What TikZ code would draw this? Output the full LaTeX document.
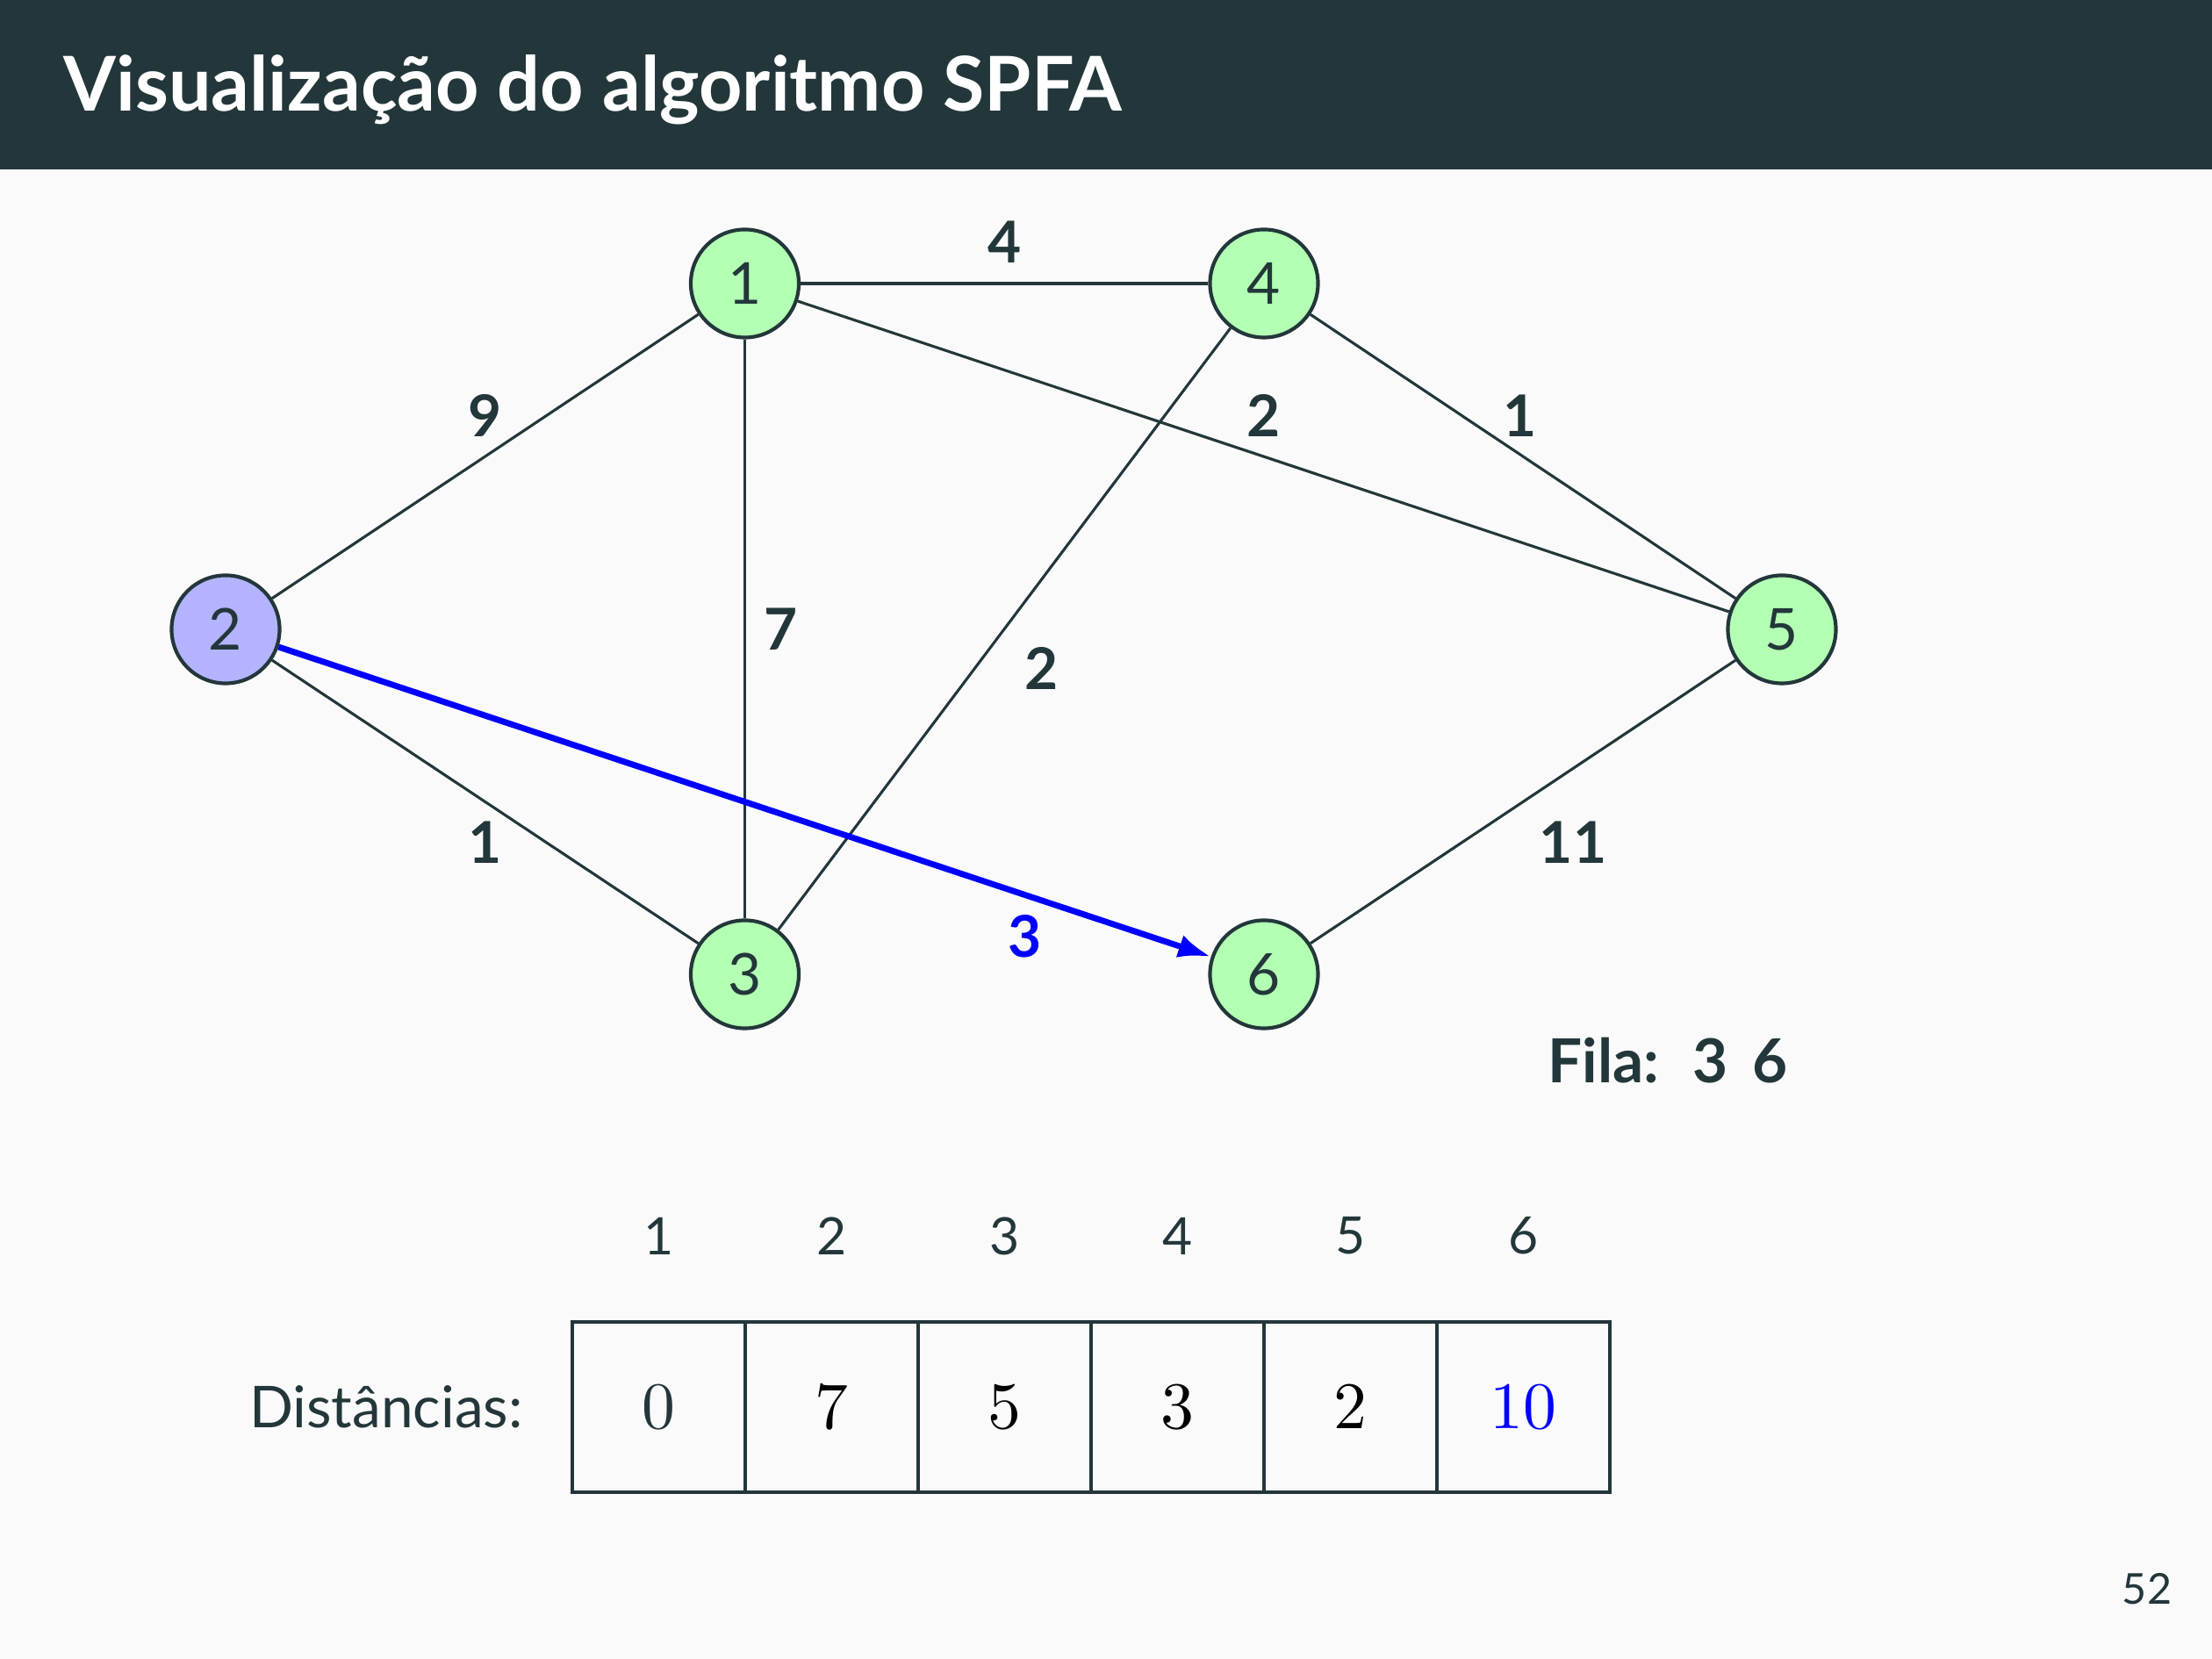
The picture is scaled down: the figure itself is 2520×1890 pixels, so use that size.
\documentclass[tikz,border=0pt]{standalone}
\usepackage{fontspec}
\setmainfont{Lato}
\usetikzlibrary{arrows.meta}
\definecolor{mDarkTeal}{HTML}{23373B}
\definecolor{bgc}{HTML}{FAFAFA}
\definecolor{ngreen}{HTML}{B3FFB3}
\definecolor{nblue}{HTML}{B3B3FF}
\tikzset{
  vtx/.style={circle, draw=mDarkTeal, line width=0.6pt, fill=ngreen, minimum size=6.25mm, inner sep=0pt, text=mDarkTeal, font=\fontsize{9.5}{11}\selectfont},
  edg/.style={draw=mDarkTeal, line width=0.45pt},
  hot/.style={draw=blue, line width=1pt, -{Latex[length=1.9mm,width=1.35mm]}},
  lbl/.style={text=mDarkTeal, font=\fontsize{9.5}{11}\selectfont\bfseries, inner sep=0pt},
  cell/.style={draw=mDarkTeal, line width=0.5pt, minimum width=197*0.0508mm, minimum height=194*0.0508mm, inner sep=0pt, font=\fontsize{11}{13}\selectfont},
  idx/.style={text=mDarkTeal, font=\fontsize{8.5}{10}\selectfont, inner sep=0pt},
}
\begin{document}
\begin{tikzpicture}[x=0.0508mm,y=-0.0508mm]
\useasboundingbox (0,0) rectangle (2520,1890);
\fill[bgc] (0,0) rectangle (2520,1890);
\fill[mDarkTeal] (0,0) rectangle (2520,193);
\node[anchor=west, text=white, font=\fontsize{12.45}{14}\selectfont\bfseries, inner sep=0pt] (title) at (71,102) {Visualização do algoritmo SPFA};

% vertices
\node[vtx] (n1) at (848.5,323) {1};
\node[vtx] (n4) at (1440,323) {4};
\node[vtx, fill=nblue] (n2) at (257,717) {2};
\node[vtx] (n5) at (2030,717) {5};
\node[vtx] (n3) at (848.5,1110) {3};
\node[vtx] (n6) at (1440,1110) {6};

% edges
\draw[edg] (n1) -- (n2) node[lbl, pos=0.5, shift={(0,-46)}] (w12) {9};
\draw[edg] (n1) -- (n4) node[lbl, pos=0.5, shift={(0,-47)}] (w14) {4};
\draw[edg] (n1) -- (n5) node[lbl, pos=0.5, shift={(0,-46)}] (w15) {2};
\draw[edg] (n4) -- (n5) node[lbl, pos=0.5, shift={(-3,-46)}] (w45) {1};
\draw[edg] (n1) -- (n3) node[lbl, pos=0.5, shift={(41,0)}] (w13) {7};
\draw[edg] (n4) -- (n3) node[lbl, pos=0.5, shift={(42,45)}] (w43) {2};
\draw[edg] (n2) -- (n3) node[lbl, pos=0.5, shift={(0,46)}] (w23) {1};
\draw[edg] (n5) -- (n6) node[lbl, pos=0.5, shift={(57,46)}] (w56) {11};
\draw[hot] (n2) -- (n6) node[lbl, text=blue, pos=0.77, shift={(32,58)}] (w26) {3};

% queue
\node[anchor=west, text=mDarkTeal, font=\fontsize{10}{12}\selectfont\bfseries, inner sep=0pt] (fila) at (1762,1208) {Fila:\hspace{5.5pt}3\hspace{4pt}6};

% distances
\node[anchor=east, text=mDarkTeal, font=\fontsize{9.5}{11}\selectfont, inner sep=0pt] (dist) at (597,1603) {Distâncias:};
\node[cell, text=mDarkTeal] (c1) at (750.5,1603) {$0$};
\node[cell] (c2) at (947.5,1603) {$7$};
\node[cell] (c3) at (1144.5,1603) {$5$};
\node[cell] (c4) at (1341.5,1603) {$3$};
\node[cell] (c5) at (1538.5,1603) {$2$};
\node[cell, text=blue] (c6) at (1735.5,1603) {$10$};
\node[idx] (i1) at (750.5,1408) {1};
\node[idx] (i2) at (947.5,1408) {2};
\node[idx] (i3) at (1144.5,1408) {3};
\node[idx] (i4) at (1341.5,1408) {4};
\node[idx] (i5) at (1538.5,1408) {5};
\node[idx] (i6) at (1735.5,1408) {6};

\node[text=mDarkTeal, font=\fontsize{7}{8}\selectfont, inner sep=0pt] (pnum) at (2446,1810) {52};
\end{tikzpicture}
\end{document}
